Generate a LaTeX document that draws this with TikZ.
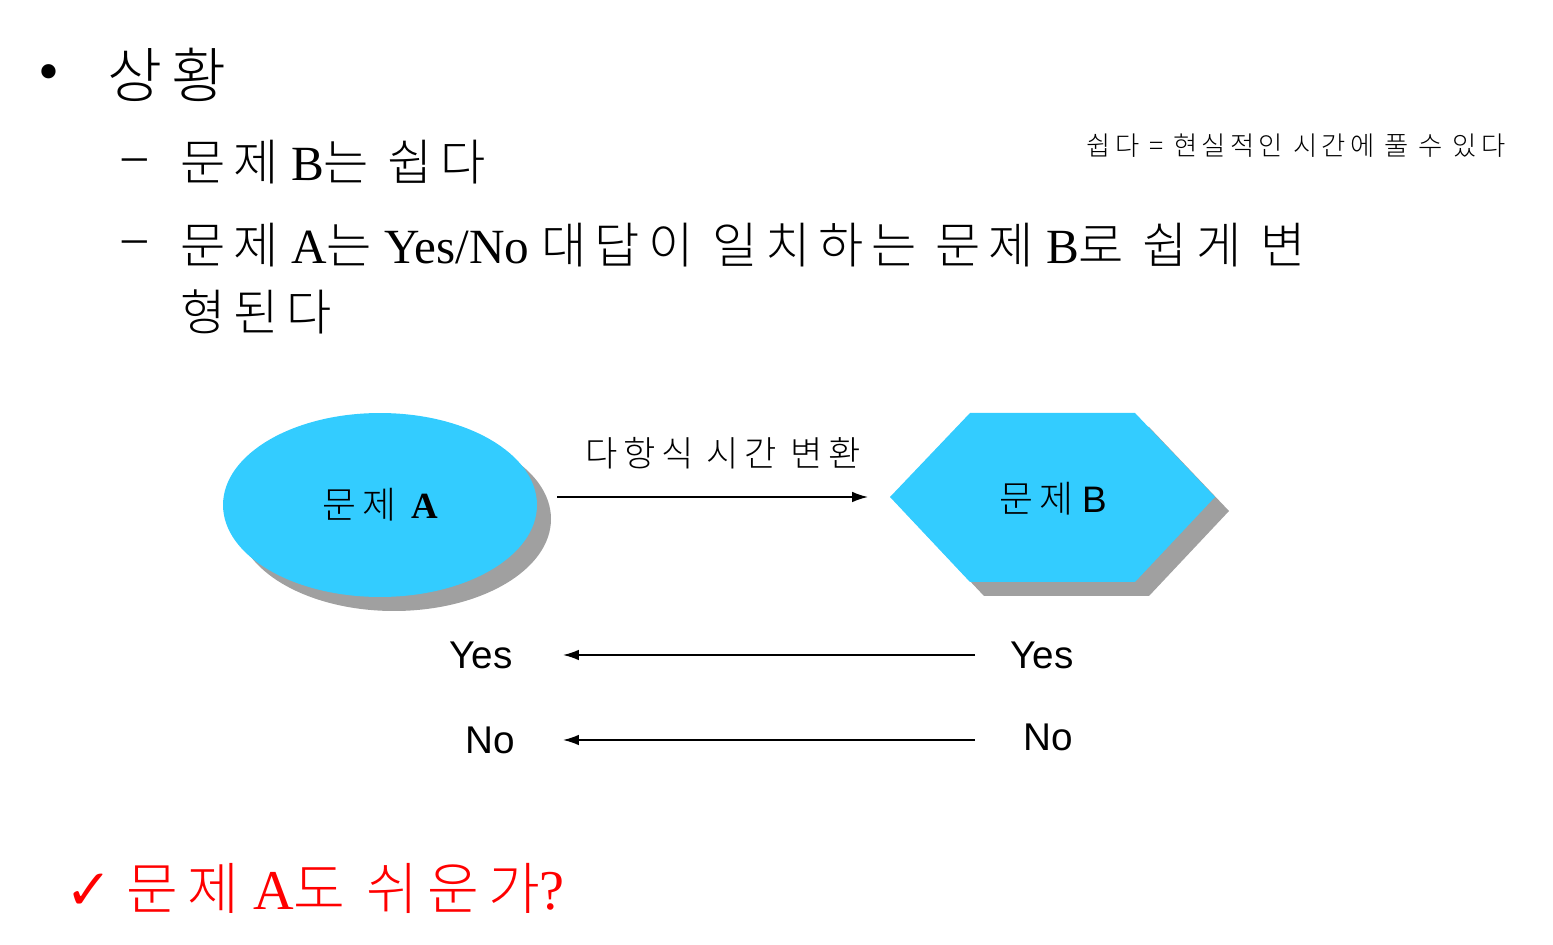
\documentclass[tikz,border=0pt]{standalone}
\usepackage{fontspec}
\usetikzlibrary{shapes.geometric,arrows.meta}
\setmainfont{Liberation Serif}
\newfontfamily\kr[LetterSpace=16]{Noto Sans CJK KR Light}
\newfontfamily\arial{Liberation Sans}
\newfontfamily\dv{DejaVu Sans}
\definecolor{cyanfill}{RGB}{51,204,255}
\definecolor{shadowgray}{RGB}{160,160,160}
\begin{document}
\begin{tikzpicture}[x=0.02cm,y=-0.02cm,
  txt/.style={anchor=west,inner sep=0pt},
  arr/.style={-{Latex[length=9pt,width=6pt]},line width=0.9pt}]
\useasboundingbox (0,0) rectangle (1553,945);
% bullets
\node[txt,font=\fontsize{34}{38}\selectfont] (b0) at (38,78) {•};
\node[txt,font=\fontsize{34}{38}\selectfont\kr] (t0) at (107,75) {상황};
\node[txt,font=\fontsize{28}{32}\selectfont] (d1) at (122,165) {–};
\node[txt,font=\fontsize{28}{32}\selectfont] (t1) at (180,162) {{\kr 문제} B{\kr 는 쉽다}};
\node[txt,font=\fontsize{28}{32}\selectfont] (d2) at (122,247) {–};
\node[txt,font=\fontsize{28}{32}\selectfont] (t2) at (180,245) {{\kr 문제} A{\kr 는} Yes/No {\kr 대답이 일치하는 문제} B{\kr 로 쉽게 변}};
\node[txt,font=\fontsize{28}{32}\selectfont\kr] (t3) at (180,312) {형된다};
\node[anchor=east,inner sep=0pt,font=\fontsize{15}{16}\selectfont\kr] (note) at (1506,146) {쉽다 = 현실적인 시간에 풀 수 있다};
% ellipse A
\fill[shadowgray] (394,519) ellipse [x radius=157, y radius=92];
\node[ellipse,fill=cyanfill,minimum width=6.28cm,minimum height=3.68cm,inner sep=0pt] (A) at (380,505) {};
\node[font=\fontsize{21}{24}\selectfont] at (A) {{\kr 문제} \textbf{A}};
% hexagon B
\fill[shadowgray] (904,511)--(984,427)--(1149,427)--(1229,511)--(1149,596)--(984,596)--cycle;
\fill[cyanfill] (890,497)--(970,413)--(1135,413)--(1215,497)--(1135,582)--(970,582)--cycle;
\node[font=\fontsize{21}{24}\selectfont] (B) at (1053,499) {{\kr 문제} {\arial B}};
% transform arrow
\coordinate (ts) at (557,497); \coordinate (te) at (868,497);
\draw[arr] (ts) -- (te);
\node[font=\fontsize{20}{24}\selectfont\kr] (tl) at (723,453) {다항식 시간 변환};
% yes/no
\node[font=\fontsize{22}{24}\selectfont\arial] (yl) at (481,655) {Yes};
\node[font=\fontsize{22}{24}\selectfont\arial] (yr) at (1042,655) {Yes};
\node[font=\fontsize{22}{24}\selectfont\arial] (nl) at (490,740) {No};
\node[font=\fontsize{22}{24}\selectfont\arial] (nr) at (1048,737) {No};
\coordinate (ys) at (975,655); \coordinate (ye) at (563,655);
\coordinate (ns) at (975,740); \coordinate (ne) at (563,740);
\draw[arr] (ys) -- (ye);
\draw[arr] (ns) -- (ne);
% question
\node[txt,text=red,font=\fontsize{32}{36}\selectfont] (q) at (65,888) {{\dv\bfseries ✓} {\kr 문제} A{\kr 도 쉬운가}?};
\end{tikzpicture}
\end{document}
